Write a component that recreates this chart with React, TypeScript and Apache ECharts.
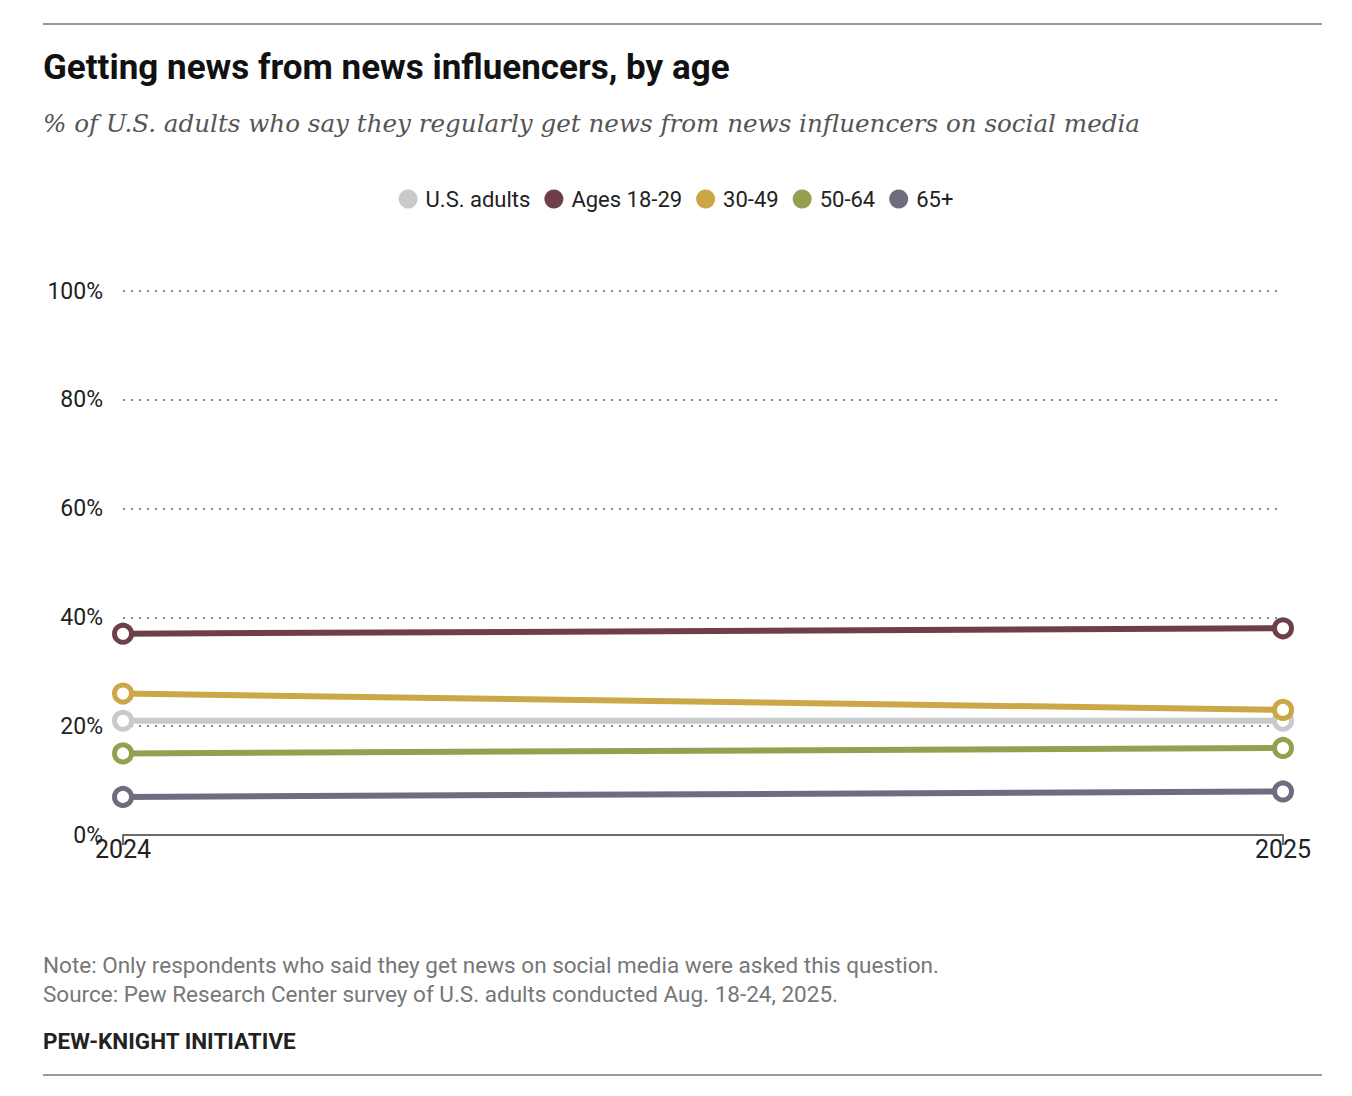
import React, { useEffect, useRef } from "react";
import * as echarts from "echarts";

const years = ["2024", "2025"];
const seriesNames = ["U.S. adults", "Ages 18-29", "30-49", "50-64", "65+"];
const usAdults = [21, 21];
const ages18to29 = [37, 38];
const ages30to49 = [26, 23];
const ages50to64 = [15, 16];
const ages65plus = [7, 8];
const colors = ["#c8c9cb", "#6e3f48", "#cca747", "#969f50", "#716b80"];
const yTicks = [0, 20, 40, 60, 80, 100];

const SANS = "'Roboto', sans-serif";

export default function App() {
  const ref = useRef<HTMLDivElement>(null);
  useEffect(() => {
    document.body.style.margin = "0";
    if (!ref.current) return;
    const chart = echarts.init(ref.current, undefined, { renderer: "svg" });
    const data = [usAdults, ages18to29, ages30to49, ages50to64, ages65plus];
    chart.setOption({
      animation: false,
      backgroundColor: "#ffffff",
      textStyle: { fontFamily: SANS },
      grid: { left: 123, right: 69, top: 291, bottom: 261, containLabel: false },
      legend: {
        top: 183,
        left: "center",
        icon: "circle",
        itemWidth: 19,
        itemHeight: 19,
        itemGap: 14,
        textStyle: { fontSize: 22, color: "#222", fontFamily: SANS, padding: [0, 0, 0, 3] },
        data: seriesNames.map((n, i) => ({
          name: n,
          itemStyle: { color: colors[i], borderWidth: 0 },
        })),
      },
      xAxis: {
        type: "category",
        data: years,
        boundaryGap: false,
        axisLine: { lineStyle: { color: "#6b6b6b", width: 2 } },
        axisTick: { show: true, length: 10, lineStyle: { color: "#6b6b6b", width: 2 } },
        axisLabel: { fontSize: 25, color: "#222", margin: 2, fontFamily: SANS },
      },
      yAxis: {
        type: "value",
        min: yTicks[0],
        max: yTicks[yTicks.length - 1],
        interval: 20,
        axisLine: { show: false },
        axisTick: { show: false },
        axisLabel: {
          formatter: "{value}%",
          fontSize: 23,
          color: "#222",
          margin: 20,
          fontFamily: SANS,
        },
        splitLine: { lineStyle: { color: "#8a8a8a", type: [2, 6], width: 2 } },
      },
      series: seriesNames.map((name, i) => ({
        name,
        type: "line",
        data: data[i],
        color: colors[i],
        lineStyle: { width: 6, color: colors[i] },
        symbol: "circle",
        symbolSize: 17,
        itemStyle: { color: "#ffffff", borderColor: colors[i], borderWidth: 5 },
        emphasis: { disabled: true },
        z: 2 + i,
      })),
      graphic: [
        { type: "line", shape: { x1: 43, y1: 24, x2: 1322, y2: 24 }, style: { stroke: "#9a9a9a", lineWidth: 2 } },
        { type: "line", shape: { x1: 43, y1: 1075, x2: 1322, y2: 1075 }, style: { stroke: "#9a9a9a", lineWidth: 2 } },
        {
          type: "text",
          left: 43,
          top: 50,
          style: { text: "Getting news from news influencers, by age", fontSize: 35, fontWeight: "bold", fill: "#111", fontFamily: SANS },
        },
        {
          type: "text",
          left: 43,
          top: 111,
          style: {
            text: "% of U.S. adults who say they regularly get news from news influencers on social media",
            fontSize: 24.6,
            fontStyle: "italic",
            fill: "#555",
            fontFamily: "'DejaVu Serif', serif",
          },
        },
        {
          type: "text",
          left: 43,
          top: 953,
          style: { text: "Note: Only respondents who said they get news on social media were asked this question.", fontSize: 22.5, fill: "#777", fontFamily: SANS },
        },
        {
          type: "text",
          left: 43,
          top: 982,
          style: { text: "Source: Pew Research Center survey of U.S. adults conducted Aug. 18-24, 2025.", fontSize: 22.5, fill: "#777", fontFamily: SANS },
        },
        {
          type: "text",
          left: 43,
          top: 1029,
          style: { text: "PEW-KNIGHT INITIATIVE", fontSize: 22.5, fontWeight: "bold", fill: "#222", fontFamily: SANS },
        },
      ],
    });
    return () => chart.dispose();
  }, []);
  return <div ref={ref} style={{ width: 1352, height: 1096 }} />;
}
